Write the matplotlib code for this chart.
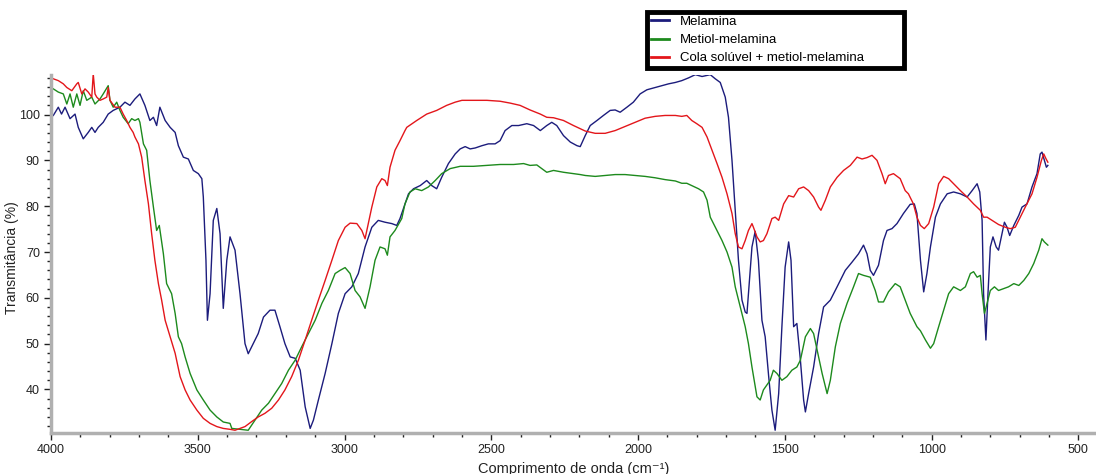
import matplotlib
matplotlib.use("Agg")
import matplotlib.pyplot as plt
from matplotlib.ticker import MultipleLocator

plt.rcParams['font.family'] = ['Liberation Sans', 'DejaVu Sans']

# FTIR spectra (wavenumber, transmittance %)
wn_melamina = [3992, 3975, 3964, 3952, 3935, 3918, 3907, 3890, 3873, 3861, 3850, 3839, 3822, 3805, 3788, 3765, 3748, 3731, 3714, 3697,
               3680, 3663, 3651, 3640, 3629, 3611, 3594, 3577, 3566, 3549, 3532, 3515, 3498, 3486, 3481, 3472, 3467, 3458, 3447, 3435,
               3424, 3413, 3401,
               3390, 3373, 3356, 3339, 3328, 3311, 3294, 3276, 3254, 3237, 3220, 3203, 3185, 3168, 3151, 3134, 3117, 3106, 3089, 3066,
               3043, 3021, 2998, 2975, 2953, 2930, 2907, 2885, 2862, 2839, 2822, 2811, 2794,
               2782, 2765, 2742, 2720, 2703, 2686, 2669, 2646, 2623, 2606, 2589, 2572, 2555, 2532, 2510, 2487, 2470, 2453, 2430, 2407,
               2379, 2356, 2333, 2311, 2294, 2277, 2254, 2231, 2208, 2197,
               2180, 2163, 2140, 2118, 2095, 2078, 2061, 2038, 2016, 1993, 1970, 1942, 1919, 1896, 1873, 1851, 1828, 1805, 1782, 1754,
               1737, 1720, 1703, 1692, 1680, 1669, 1658, 1646, 1635, 1629, 1624, 1612, 1601,
               1590, 1578, 1567, 1555, 1544, 1533, 1521, 1510, 1499, 1487, 1479, 1470, 1459, 1447, 1436, 1430, 1419, 1402, 1385, 1368,
               1345, 1322, 1294, 1271, 1249, 1232, 1220, 1209, 1198, 1181, 1164, 1152, 1135, 1118, 1096, 1073, 1059, 1050, 1038, 1027,
               1016, 1004,
               987, 970, 947, 925, 902, 879, 862, 845, 836, 828, 823, 815, 808, 800, 791, 780, 772, 760, 752, 743,
               734, 720, 703, 692, 675, 658, 641, 630, 624, 616, 609, 604]
t_melamina = [99.8, 101.6, 100.1, 101.6, 99.1, 100.1, 97.2, 94.7, 96.1, 97.2, 96.1, 97.2, 98.3, 100.1, 100.9, 101.6, 102.7, 102.0, 103.4, 104.5,
              102.0, 98.7, 99.4, 97.6, 101.6, 98.7, 97.2, 96.1, 93.2, 90.7, 90.3, 87.8, 87.1, 86.0, 82.0, 68.2, 55.1, 60.9, 76.9, 79.5,
              74.0, 57.7, 68.2,
              73.3, 70.4, 60.9, 50.0, 47.8, 50.0, 52.2, 55.8, 57.3, 57.3, 53.7, 50.0, 47.1, 46.8, 44.2, 36.2, 31.5, 33.3, 37.7, 43.5,
              50.0, 56.6, 60.9, 62.4, 65.3, 71.1, 75.4, 76.9, 76.5, 76.2, 75.8, 77.3, 80.5,
              82.7, 83.8, 84.5, 85.6, 84.5, 83.8, 86.3, 89.3, 91.4, 92.5, 93.0, 92.5, 92.7, 93.2, 93.6, 93.6, 94.3, 96.5, 97.6, 97.6,
              98.0, 97.6, 96.5, 97.6, 98.3, 97.6, 95.4, 94.0, 93.2, 93.0,
              95.4, 97.6, 98.7, 99.8, 100.9, 101.0, 100.5, 101.6, 102.7, 104.5, 105.4, 105.9, 106.3, 106.7, 107.0, 107.4, 108.0, 108.7, 108.3, 108.7,
              107.8, 107.0, 103.8, 99.4, 90.0, 79.1, 68.2, 59.5, 56.9, 56.6, 60.9, 71.1, 74.5,
              68.2, 55.1, 51.5, 42.8, 35.5, 31.1, 39.1, 53.7, 66.7, 72.2, 68.2, 53.7, 54.4, 46.4, 37.7, 35.1, 39.1, 44.9, 52.2, 58.0,
              59.5, 62.4, 66.0, 67.8, 69.6, 71.5, 69.6, 66.0, 64.9, 67.1, 72.5, 74.7, 75.1, 76.2, 78.4, 80.4, 80.5, 78.4, 68.2, 61.3,
              65.3, 71.1,
              77.6, 80.5, 82.7, 83.1, 82.7, 82.0, 83.4, 84.9, 83.1, 76.9, 60.9, 50.8, 60.9, 71.1, 73.3, 71.1, 70.4, 74.0, 76.5, 75.4,
              73.6, 75.8, 78.0, 79.8, 80.5, 84.2, 87.1, 91.4, 91.8, 90.0, 88.5, 88.9]

wn_metiol = [3992, 3975, 3958, 3946, 3935, 3924, 3912, 3901, 3890, 3878, 3861, 3850, 3833, 3822, 3805, 3799, 3788, 3776, 3765, 3754,
             3737, 3725, 3714, 3702, 3697, 3685, 3674, 3663, 3651, 3640, 3631, 3617, 3606, 3589, 3577, 3566, 3555, 3543, 3526, 3503,
             3481, 3458, 3435, 3413, 3390,
             3384, 3356, 3328, 3305, 3282, 3259, 3237, 3214, 3191, 3168, 3146, 3123, 3100, 3077, 3055, 3032, 3015, 2998, 2981, 2964,
             2947, 2930, 2913, 2896, 2879, 2862, 2854, 2845, 2828, 2805, 2794,
             2777, 2759, 2737, 2714, 2691, 2669, 2640, 2606, 2561, 2515, 2470, 2424, 2390, 2368, 2345, 2328, 2311, 2288, 2254, 2220,
             2197,
             2180, 2146, 2112, 2078, 2044, 2010, 1976, 1942, 1908, 1873, 1851, 1834, 1817, 1794, 1777, 1765, 1754, 1743, 1731, 1714,
             1697, 1680, 1669, 1652, 1635, 1624, 1612, 1601,
             1595, 1584, 1573, 1561, 1550, 1539, 1527, 1510, 1493, 1476, 1459, 1447, 1430, 1413, 1402, 1390, 1373, 1356, 1345, 1328,
             1311, 1288, 1266, 1249, 1232, 1209, 1192, 1181, 1164, 1147, 1124, 1107, 1090, 1073, 1050,
             1038, 1021, 1004, 993, 976, 959, 942, 925, 902, 885, 868, 857, 845, 834, 828, 820, 811, 800, 786, 772,
             755, 738, 720, 703, 686, 669, 652, 635, 624, 616, 604]
t_metiol = [105.6, 104.9, 104.5, 102.3, 104.5, 101.6, 104.5, 102.0, 105.2, 103.1, 103.8, 102.3, 103.4, 104.5, 106.3, 103.1, 101.6, 102.7, 100.9, 99.4,
            98.0, 99.1, 98.7, 99.1, 98.3, 93.6, 92.2, 85.6, 79.8, 74.7, 75.8, 69.6, 63.1, 60.9, 56.6, 51.5, 50.0, 47.1, 43.5, 39.9,
            37.7, 35.5, 34.0, 32.9, 32.6,
            31.5, 31.3, 31.1, 33.3, 35.5, 37.0, 39.1, 41.3, 44.2, 46.4, 49.3, 52.2, 55.1, 58.8, 61.6, 65.3, 66.0, 66.6, 65.3, 61.6,
            60.2, 57.7, 62.4, 68.2, 71.1, 70.7, 69.3, 73.3, 74.7, 77.3, 80.5,
            83.1, 83.8, 83.4, 84.2, 85.6, 87.1, 88.2, 88.7, 88.7, 88.9, 89.1, 89.1, 89.3, 88.9, 89.0, 88.2, 87.4, 87.8, 87.4, 87.1,
            86.9,
            86.7, 86.5, 86.7, 86.9, 86.9, 86.7, 86.5, 86.2, 85.8, 85.5, 85.0, 85.0, 84.5, 83.8, 83.1, 81.3, 77.6, 76.2, 74.7, 72.5,
            70.0, 66.7, 62.4, 58.0, 53.7, 50.0, 44.9, 40.6,
            38.4, 37.7, 39.9, 41.0, 42.0, 44.2, 43.5, 42.0, 42.8, 44.2, 44.9, 46.4, 51.5, 53.3, 52.2, 48.6, 43.5, 39.1, 42.0, 49.3,
            54.4, 58.8, 62.4, 65.3, 64.9, 64.5, 61.6, 59.1, 59.1, 61.3, 63.1, 62.4, 59.5, 56.6, 53.7,
            52.8, 50.8, 49.0, 50.0, 53.7, 57.3, 60.9, 62.4, 61.6, 62.4, 65.3, 65.7, 64.5, 64.9, 60.9, 56.6, 58.8, 61.6, 62.4, 61.6,
            62.0, 62.4, 63.1, 62.7, 63.8, 65.3, 67.5, 70.4, 72.9, 72.2, 71.5]

wn_cola = [3992, 3975, 3958, 3946, 3929, 3912, 3907, 3895, 3884, 3873, 3861, 3856, 3850, 3844, 3833, 3822, 3810, 3805, 3799, 3782,
           3765, 3754, 3742, 3731, 3720, 3714, 3702, 3691, 3680, 3668, 3657, 3646, 3634, 3623, 3611, 3594, 3577, 3560, 3543, 3526,
           3503, 3481, 3458, 3435, 3413, 3390,
           3373, 3339, 3316, 3294, 3271, 3248, 3225, 3203, 3180, 3157, 3134, 3112, 3089, 3066, 3043, 3021, 2998, 2981, 2958, 2941,
           2930, 2919, 2907, 2890, 2873, 2862, 2854, 2845, 2828, 2811, 2794,
           2788, 2754, 2720, 2686, 2652, 2623, 2600, 2561, 2515, 2470, 2436, 2402, 2368, 2333, 2311, 2288, 2254, 2220,
           2180, 2146, 2112, 2078, 2044, 2010, 1976, 1942, 1908, 1873, 1851, 1834, 1817, 1800, 1782, 1765, 1748, 1731, 1714, 1697,
           1680, 1669, 1658, 1646, 1635, 1624, 1612,
           1607, 1595, 1584, 1573, 1561, 1544, 1533, 1521, 1504, 1487, 1470, 1453, 1436, 1419, 1402, 1385, 1377, 1362, 1345, 1322,
           1300, 1277, 1254, 1237, 1220, 1203, 1186, 1169, 1158, 1147, 1130, 1107, 1090, 1079, 1062, 1050, 1038, 1025, 1010, 993,
           976, 959, 942, 925, 902, 879, 857, 834, 823, 811, 794, 772, 749, 732, 715, 698, 681, 658, 641, 626,
           618, 610, 604]
t_cola = [107.8, 107.4, 106.7, 105.9, 105.2, 106.7, 107.0, 104.5, 105.6, 104.9, 103.8, 108.9, 104.5, 103.8, 103.1, 103.4, 103.8, 105.9, 103.1, 101.6,
          101.6, 100.1, 98.7, 97.2, 96.1, 95.1, 93.6, 90.7, 85.6, 80.5, 74.0, 68.2, 63.1, 59.5, 55.1, 51.5, 47.9, 42.8, 39.9, 37.7,
          35.5, 33.7, 32.6, 31.9, 31.5, 31.3,
          31.1, 31.9, 33.0, 34.0, 34.8, 35.9, 37.7, 39.9, 42.8, 46.4, 50.8, 55.1, 59.5, 63.8, 68.2, 72.5, 75.4, 76.3, 76.2, 74.7,
          72.9, 76.2, 79.8, 84.2, 86.0, 85.6, 84.5, 88.5, 92.2, 94.3, 96.5,
          97.2, 98.7, 100.1, 100.9, 102.0, 102.7, 103.1, 103.1, 103.1, 102.9, 102.5, 102.0, 101.0, 100.1, 99.4, 99.3, 98.7, 97.6,
          96.4, 95.9, 95.9, 96.5, 97.4, 98.3, 99.2, 99.6, 99.8, 99.8, 99.6, 99.8, 98.7, 98.0, 97.2, 95.1, 92.2, 89.3, 86.3, 82.7,
          78.4, 74.0, 71.1, 70.7, 72.5, 74.7, 76.2,
          75.4, 73.3, 72.2, 72.5, 74.0, 77.3, 77.6, 76.9, 80.5, 82.3, 82.0, 83.8, 84.2, 83.4, 82.0, 79.8, 79.1, 81.3, 84.2, 86.3,
          87.8, 88.9, 90.7, 90.3, 90.6, 91.1, 90.0, 87.1, 84.9, 86.7, 87.1, 86.0, 83.4, 82.7, 80.5, 77.6, 75.8, 75.1, 76.2, 79.8,
          84.9, 86.5, 86.0, 84.9, 83.4, 82.0, 80.5, 79.1, 77.6, 77.6, 76.9, 76.0, 75.4, 75.1, 75.4, 77.6, 79.8, 82.7, 86.3, 90.0,
          91.4, 90.3, 89.6]

labels = ["Melamina", "Metiol-melamina", "Cola solúvel + metiol-melamina"]
colors = ["#1c1c7c", "#1d8a1d", "#e3161b"]

fig = plt.figure(figsize=(10.96, 4.74), dpi=100)
ax = fig.add_axes([0.0465, 0.0865, 0.9535, 0.755])

lines = []
for wn, t, c, lab in [(wn_melamina, t_melamina, colors[0], labels[0]),
                      (wn_metiol, t_metiol, colors[1], labels[1]),
                      (wn_cola, t_cola, colors[2], labels[2])]:
    ln, = ax.plot(wn, t, color=c, lw=1.0, label=lab)
    lines.append(ln)

ax.set_xlim(4000, 440)
ax.set_ylim(30.5, 108.6)
ax.xaxis.set_major_locator(MultipleLocator(500))
ax.xaxis.set_minor_locator(MultipleLocator(100))
ax.yaxis.set_major_locator(MultipleLocator(10))
ax.yaxis.set_minor_locator(MultipleLocator(2))

for s in ['top', 'right']:
    ax.spines[s].set_visible(False)
for s in ['left', 'bottom']:
    ax.spines[s].set_color('#b0b0b0')
    ax.spines[s].set_linewidth(2.5)

ax.tick_params(which='major', direction='out', length=5, width=1, color='#222222',
               labelsize=9, labelcolor='#222222', pad=3)
ax.tick_params(which='minor', direction='out', length=3, width=1, color='#222222')

ax.set_xlabel("Comprimento de onda (cm⁻¹)", fontsize=10.5, color='#222222', labelpad=4)
ax.set_ylabel("Transmitância (%)", fontsize=10, color='#222222')
ax.yaxis.set_label_coords(-0.031, 0.49)

leg = fig.legend(lines, labels, loc='upper left', bbox_to_anchor=(0.590, 0.852, 0.235, 0.123),
                 mode='expand', borderaxespad=0, fancybox=False, framealpha=1,
                 fontsize=9.5, handlelength=1.4, handletextpad=0.8, labelspacing=0.45,
                 borderpad=0.3)
leg.get_frame().set_edgecolor('black')
leg.get_frame().set_linewidth(3.5)
for h in leg.get_lines():
    h.set_linewidth(2)

fig.savefig("out.png", dpi=100)
